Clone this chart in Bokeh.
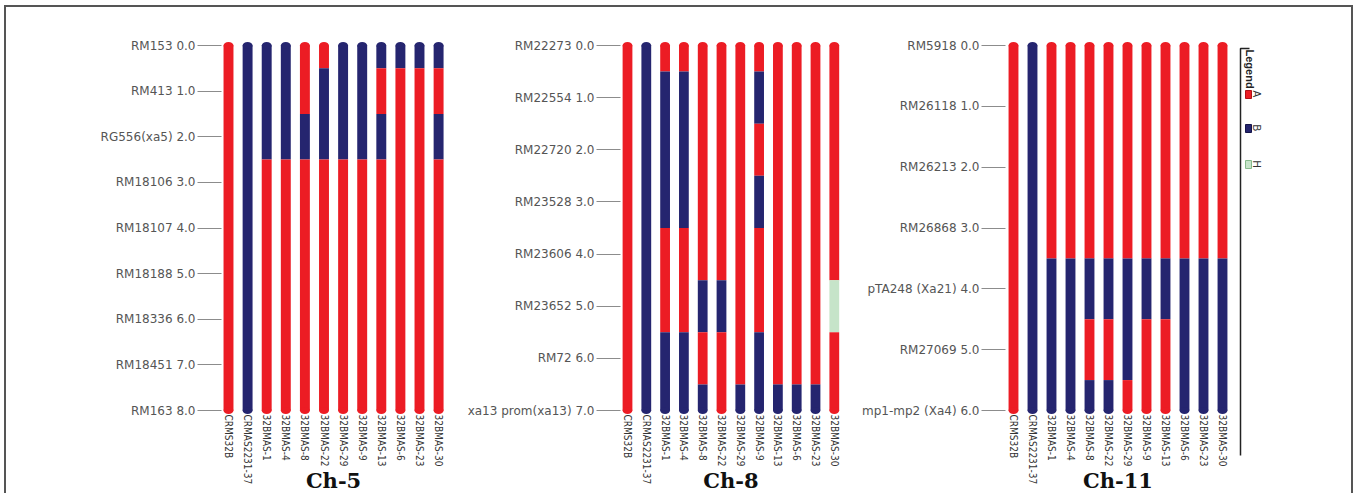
import math
from bokeh.plotting import figure
from bokeh.layouts import row
from bokeh.models import FixedTicker, Range1d
from bokeh.core.properties import value
from bokeh.embed import file_html
from bokeh.resources import INLINE

# ---------------- data ----------------
lines = ["CRMS32B", "CRMAS2231-37", "32BMAS-1", "32BMAS-4", "32BMAS-8", "32BMAS-22",
         "32BMAS-29", "32BMAS-9", "32BMAS-13", "32BMAS-6", "32BMAS-23", "32BMAS-30"]

ch5_markers = ["RM153", "RM413", "RG556(xa5)", "RM18106", "RM18107", "RM18188",
               "RM18336", "RM18451", "RM163"]
ch5_pos = [0.0, 1.0, 2.0, 3.0, 4.0, 5.0, 6.0, 7.0, 8.0]
ch5_geno = ["AAAAAAAAA", "BBBBBBBBB", "BBBAAAAAA", "BBBAAAAAA", "AABAAAAAA", "ABBAAAAAA",
            "BBBAAAAAA", "BBBAAAAAA", "BABAAAAAA", "BAAAAAAAA", "BAAAAAAAA", "BABAAAAAA"]

ch8_markers = ["RM22273", "RM22554", "RM22720", "RM23528", "RM23606", "RM23652",
               "RM72", "xa13 prom(xa13)"]
ch8_pos = [0.0, 1.0, 2.0, 3.0, 4.0, 5.0, 6.0, 7.0]
ch8_geno = ["AAAAAAAA", "BBBBBBBB", "ABBBAABB", "ABBBAABB", "AAAAABAB", "AAAAABAA",
            "AAAAAAAB", "ABABAABB", "AAAAAAAB", "AAAAAAAB", "AAAAAAAB", "AAAAAHAA"]

ch11_markers = ["RM5918", "RM26118", "RM26213", "RM26868", "pTA248 (Xa21)",
                "RM27069", "mp1-mp2 (Xa4)"]
ch11_pos = [0.0, 1.0, 2.0, 3.0, 4.0, 5.0, 6.0]
ch11_geno = ["AAAAAAA", "BBBBBBB", "AAAABBB", "AAAABBB", "AAAABAB", "AAAABAB",
             "AAAABBA", "AAAABAA", "AAAABAA", "AAAABBB", "AAAABBB", "AAAABBB"]

legend_codes = ["A", "B", "H"]

# ---------------- style ----------------
COLORS = {"A": "#EC1C24", "B": "#25256F", "H": "#C6E4C9"}
LABEL_FONT = "'Liberation Sans Narrow', 'DejaVu Sans Condensed', 'Liberation Sans', sans-serif"
H = 486            # figure height
TOP_PAGE = 7       # page y of figure top (5 margin + 2 border)
Y0_PAGE, YN_PAGE = 45, 410


def build_panel(markers, pos, geno, title, width, left_border, panel_left, first_bar, spacing,
                legend=False):
    n_span = pos[-1] - pos[0]
    u = n_span / (YN_PAGE - Y0_PAGE)            # data units per pixel (vertical)

    def py(page_y):
        return pos[0] + (page_y - Y0_PAGE) * u

    def fx(page_x):
        return (page_x - first_bar) / spacing

    y_top = py(TOP_PAGE)
    y_bot = py(TOP_PAGE + H)
    frame_left = panel_left + left_border
    frame_right = panel_left + width

    p = figure(width=width, height=H, output_backend="svg", toolbar_location=None,
               x_range=Range1d(fx(frame_left), fx(frame_right)),
               y_range=Range1d(y_bot, y_top),
               x_axis_location=None, min_border=0, min_border_left=left_border,
               min_border_right=0, min_border_top=0, min_border_bottom=0,
               outline_line_color=None, background_fill_color="white",
               border_fill_color="white")
    p.grid.visible = False

    ax = p.yaxis[0]
    ax.ticker = FixedTicker(ticks=pos)
    ax.major_label_overrides = {v: f"{m} {v:.1f}" for m, v in zip(markers, pos)}
    ax.axis_line_color = None
    ax.major_tick_line_color = "#8c8c8c"
    ax.major_tick_in = 0
    ax.major_tick_out = 24
    ax.minor_tick_line_color = None
    ax.major_label_standoff = 2
    ax.major_label_text_font = "DejaVu Sans"
    ax.major_label_text_font_size = "12px"
    ax.major_label_text_color = "#555555"

    # segments (runs of equal genotype)
    xs, tops, bots, cols = [], [], [], []
    cap_x, cap_y, cap_c = [], [], []
    for j, g in enumerate(geno):
        i = 0
        while i < len(g):
            k = i
            while k + 1 < len(g) and g[k + 1] == g[i]:
                k += 1
            t = pos[0] if i == 0 else (pos[i - 1] + pos[i]) / 2
            b = pos[-1] if k == len(g) - 1 else (pos[k] + pos[k + 1]) / 2
            xs.append(j); tops.append(t); bots.append(b); cols.append(COLORS[g[i]])
            i = k + 1
        cap_x += [j, j]
        cap_y += [pos[0], pos[-1]]
        cap_c += [COLORS[g[0]], COLORS[g[-1]]]

    p.vbar(x=xs, top=tops, bottom=bots, width=0.52, fill_color=cols, line_color=None)
    p.ellipse(x=cap_x, y=cap_y, width=0.52, height=7, height_units="screen",
              fill_color=cap_c, line_color=None)

    # sample names
    p.text(x=list(range(len(lines))), y=[py(YN_PAGE + 4)] * len(lines), text=lines,
           angle=-math.pi / 2, text_align="left", text_baseline="middle",
           text_font=value(LABEL_FONT), text_font_size="10px", text_color="#333333")

    # chromosome title
    p.text(x=[(len(lines) - 1) / 2], y=[py(480)], text=[title], text_align="center",
           text_baseline="middle", text_font=value("DejaVu Serif"),
           text_font_style="bold", text_font_size="21px", text_color="#111111")

    if legend:
        p.line(x=[fx(1249), fx(1240), fx(1240)], y=[py(48), py(48), py(455)],
               line_color="#222222", line_width=1.5)
        p.text(x=[fx(1249)], y=[py(49)], text=["Legend"], angle=-math.pi / 2,
               text_align="left", text_baseline="middle", text_font=value("Liberation Sans"),
               text_font_style="bold", text_font_size="11px", text_color="#222222")
        ly = [90, 124, 160]
        lc = [COLORS[c] for c in legend_codes]
        lline = ["#B01015", "#15154A", "#86BA8B"]
        p.quad(left=[fx(1245)] * 3, right=[fx(1251)] * 3,
               top=[py(v) for v in ly], bottom=[py(v + 8) for v in ly],
               fill_color=lc, line_color=lline, line_width=1)
        p.text(x=[fx(1256)] * 3, y=[py(v) for v in ly], text=legend_codes,
               angle=-math.pi / 2, text_align="left", text_baseline="middle",
               text_font=value("Liberation Sans"), text_font_size="10px",
               text_color="#333333")
    return p


p1 = build_panel(ch5_markers, ch5_pos, ch5_geno, "Ch-5", 444, 215, 6, 228, 19.1)
p2 = build_panel(ch8_markers, ch8_pos, ch8_geno, "Ch-8", 393, 170, 450, 627, 18.8)
p3 = build_panel(ch11_markers, ch11_pos, ch11_geno, "Ch-11", 508, 162, 843, 1013, 19.0,
                 legend=True)

layout = row(p1, p2, p3, styles={"margin": "5px 4px 0px 4px",
                                 "border-top": "2px solid #555555",
                                 "border-left": "2px solid #555555",
                                 "border-right": "2px solid #555555"})

open("out.html", "w").write(file_html(layout, INLINE))
